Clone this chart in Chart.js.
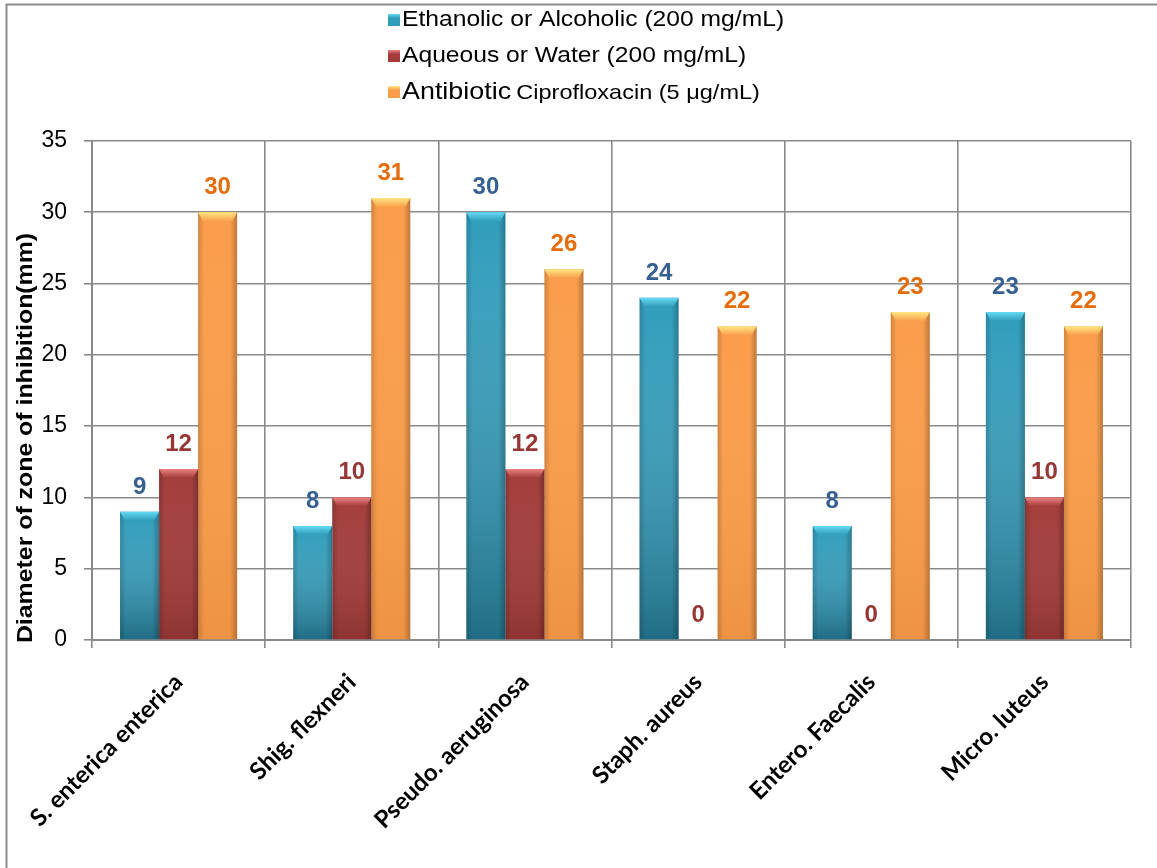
<!DOCTYPE html>
<html><head><meta charset="utf-8">
<script src="https://cdn.jsdelivr.net/npm/chart.js@4/dist/chart.umd.min.js"></script>
<style>html,body{margin:0;padding:0;background:#fff;}#wrap{position:relative;width:1157px;height:868px;}</style>
</head><body><div id="wrap"><canvas id="c" width="1157" height="868"></canvas></div>
<script>
const categories = ["S. enterica enterica", "Shig. flexneri", "Pseudo. aeruginosa", "Staph. aureus", "Entero. Faecalis", "Micro. luteus"];
const ethanolic = [9, 8, 30, 24, 8, 23];
const aqueous = [12, 10, 12, 0, 0, 10];
const antibiotic = [30, 31, 26, 22, 23, 22];
const seriesNames = ["Ethanolic or Alcoholic (200 mg/mL)", "Aqueous or Water (200 mg/mL)", "Antibiotic Ciprofloxacin (5 μg/mL)"];
const yTicks = [0, 5, 10, 15, 20, 25, 30, 35];
const yTitle = "Diameter of zone of inhibition(mm)";

const pal = [
  {base:'#2F9CBB', light:'#66DAF4', dark:'rgba(10,45,60,0.42)', label:'#376092'},
  {base:'#A23D3B', light:'#EA8280', dark:'rgba(60,10,10,0.18)', label:'#953735'},
  {base:'#FA9D4B', light:'#FFE783', dark:'rgba(150,70,10,0.12)', label:'#E46C0A'}
];
const ARIAL = '"Liberation Sans", Arial, sans-serif';

const decor = {
  id: 'decor',
  beforeDraw(chart) {
    const ctx = chart.ctx;
    ctx.save();
    ctx.fillStyle = '#fff';
    ctx.fillRect(0, 0, chart.width, chart.height);
    ctx.strokeStyle = '#8c8c8c';
    ctx.lineWidth = 2;
    ctx.beginPath();
    ctx.moveTo(6.5, chart.height);
    ctx.lineTo(6.5, 4.5);
    ctx.lineTo(chart.width, 4.5);
    ctx.stroke();
    ctx.restore();
  },
  afterDatasetsDraw(chart) {
    const ctx = chart.ctx;
    chart.data.datasets.forEach((ds, di) => {
      const meta = chart.getDatasetMeta(di);
      const p = pal[di];
      meta.data.forEach((el, i) => {
        const x0 = el.x - el.width / 2, x1 = el.x + el.width / 2;
        const top = el.y, bot = el.base, h = bot - top;
        ctx.save();
        if (h > 1) {
          let g = ctx.createLinearGradient(0, top, 0, bot);
          g.addColorStop(0, 'rgba(255,255,255,0.0)');
          g.addColorStop(1, p.dark);
          ctx.fillStyle = g;
          ctx.fillRect(x0, top, x1 - x0, h);
          g = ctx.createLinearGradient(x0, 0, x0 + 6, 0);
          g.addColorStop(0, 'rgba(0,0,0,0.16)');
          g.addColorStop(1, 'rgba(0,0,0,0)');
          ctx.fillStyle = g;
          ctx.fillRect(x0, top, 6, h);
          g = ctx.createLinearGradient(x1 - 7, 0, x1, 0);
          g.addColorStop(0, 'rgba(0,0,0,0)');
          g.addColorStop(1, 'rgba(0,0,0,0.24)');
          ctx.fillStyle = g;
          ctx.fillRect(x1 - 7, top, 7, h);
          const ch = Math.min(9, h);
          g = ctx.createLinearGradient(0, top, 0, top + ch);
          g.addColorStop(0, p.light);
          g.addColorStop(1, p.base);
          ctx.fillStyle = g;
          ctx.beginPath();
          ctx.moveTo(x0, top); ctx.lineTo(x1, top);
          ctx.lineTo(x1 - 5, top + ch); ctx.lineTo(x0 + 5, top + ch);
          ctx.closePath(); ctx.fill();
        }
        ctx.fillStyle = p.label;
        ctx.font = 'bold 24px ' + ARIAL;
        ctx.textAlign = 'center';
        ctx.textBaseline = 'alphabetic';
        ctx.fillText(String(ds.data[i]), el.x, top - 18);
        ctx.restore();
      });
    });
  },
  afterDraw(chart) {
    const ctx = chart.ctx;
    ctx.save();
    // y title
    ctx.translate(26, 438);
    ctx.rotate(-Math.PI / 2);
    ctx.scale(1.13, 1);
    ctx.fillStyle = '#000';
    ctx.font = 'bold 22px ' + ARIAL;
    ctx.textAlign = 'center';
    ctx.textBaseline = 'middle';
    ctx.fillText(yTitle, 0, 0);
    ctx.restore();
    // legend
    const rows = [20, 56, 92];
    chart.data.datasets.forEach((ds, di) => {
      const p = pal[di], y = rows[di];
      ctx.save();
      let g = ctx.createLinearGradient(0, y - 6, 0, y + 6);
      g.addColorStop(0, p.light); g.addColorStop(0.35, p.base); g.addColorStop(1, p.base);
      ctx.fillStyle = g;
      ctx.fillRect(388, y - 6, 12, 12);
      ctx.fillStyle = '#000';
      ctx.textBaseline = 'middle';
      ctx.textAlign = 'left';
      ctx.translate(402, y);
      ctx.scale(1.12, 1);
      const label = ds.label;
      if (di === 2) {
        const sp = label.indexOf(' ');
        const a = label.slice(0, sp), b = label.slice(sp + 1);
        ctx.font = '24px ' + ARIAL;
        ctx.fillText(a, 0, 0);
        const w = ctx.measureText(a + ' ').width;
        ctx.font = '21px ' + ARIAL;
        ctx.fillText(b, w - 2, 1);
      } else {
        ctx.font = '22px ' + ARIAL;
        ctx.fillText(label, 0, 0);
      }
      ctx.restore();
    });
  }
};

new Chart(document.getElementById('c'), {
  type: 'bar',
  data: {
    labels: categories,
    datasets: [
      {label: seriesNames[0], data: ethanolic, backgroundColor: pal[0].base},
      {label: seriesNames[1], data: aqueous, backgroundColor: pal[1].base},
      {label: seriesNames[2], data: antibiotic, backgroundColor: pal[2].base}
    ]
  },
  options: {
    responsive: false,
    animation: false,
    devicePixelRatio: 1,
    layout: {padding: {top: 141, right: 26, left: 0, bottom: 0}},
    datasets: {bar: {categoryPercentage: 0.676, barPercentage: 1.0, borderWidth: 0}},
    plugins: {legend: {display: false}, tooltip: {enabled: false}, title: {display: false}},
    scales: {
      x: {
        grid: {display: true, offset: true, color: '#8a8a8a', lineWidth: 1.6, tickLength: 8, drawTicks: true},
        border: {display: true, color: '#8a8a8a', width: 2},
        ticks: {color: '#000', font: {family: 'Lato, "Open Sans", sans-serif', weight: 'bold', size: 24}, minRotation: 45, maxRotation: 45, padding: 20, autoSkip: false},
        afterFit(scale) { scale.height = 228; }
      },
      y: {
        min: 0, max: 35,
        afterBuildTicks(scale) { scale.ticks = yTicks.map(v => ({value: v})); },
        grid: {color: '#8a8a8a', lineWidth: 1.6, tickLength: 8, drawTicks: true},
        border: {display: true, color: '#8a8a8a', width: 2},
        ticks: {color: '#000', font: {family: ARIAL, size: 23}, padding: 17},
        afterFit(scale) { scale.width = 92; }
      }
    }
  },
  plugins: [decor]
});
</script></body></html>
